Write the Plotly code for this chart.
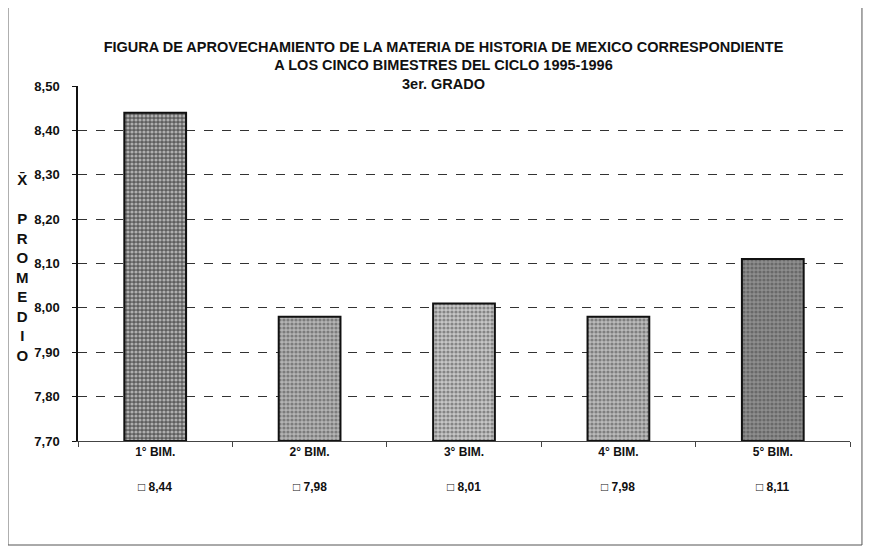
import plotly.graph_objects as go

bimestres = ["1° BIM.", "2° BIM.", "3° BIM.", "4° BIM.", "5° BIM."]
promedios = [8.44, 7.98, 8.01, 7.98, 8.11]
y_ticks = [7.70, 7.80, 7.90, 8.00, 8.10, 8.20, 8.30, 8.40, 8.50]
eje_base = 7.70

# tono del punteado de cada barra (la 1a y la 5a salen mas oscuras en la copia)
fondo = ["#5e5e5e", "#b4b4b4", "#c6c6c6", "#bababa", "#8e8e8e"]

FONT = "Liberation Sans"

fig = go.Figure()

fig.add_trace(
    go.Bar(
        x=bimestres,
        y=[v - eje_base for v in promedios],
        base=eje_base,
        width=0.4,
        marker=dict(
            color=fondo,
            line=dict(color="#111111", width=2),
            pattern=dict(shape=".", fgcolor="#1a1a1a", bgcolor=fondo,
                         size=4, solidity=0.5),
        ),
        showlegend=False,
    )
)

# tabla de valores debajo de las categorias
for cat, val in zip(bimestres, promedios):
    fig.add_annotation(
        x=cat, y=-0.155, xref="x", yref="paper",
        text="□ " + f"{val:.2f}".replace(".", ","),
        showarrow=False, xanchor="center",
        font=dict(family=FONT, size=12, color="#111111", weight="bold"),
    )

# titulo del eje y en vertical
fig.add_annotation(
    x=-0.0725, y=0.49, xref="paper", yref="paper",
    text="X̄<br> <br>P<br>R<br>O<br>M<br>E<br>D<br>I<br>O",
    showarrow=False, xanchor="center", yanchor="middle",
    font=dict(family=FONT, size=15, color="#111111", weight="bold"),
)

# la pagina deja 8 px de margen arriba y a la izquierda
fig.update_layout(
    width=871,
    height=559,
    margin=dict(l=70, r=29, t=78, b=126),
    paper_bgcolor="white",
    plot_bgcolor="white",
    separators=",.",
    title=dict(
        text="FIGURA DE APROVECHAMIENTO DE LA MATERIA DE HISTORIA DE MEXICO CORRESPONDIENTE"
             "<br>A LOS CINCO BIMESTRES DEL CICLO 1995-1996<br>3er. GRADO",
        x=0.5, xanchor="center", y=0.922, yanchor="top",
        font=dict(family=FONT, size=14.5, color="#111111", weight="bold"),
    ),
    shapes=[
        dict(type="rect", xref="paper", yref="paper",
             x0=-0.0907, x1=1.0155, y0=-0.293, y1=1.231,
             line=dict(color="#555555", width=1)),
    ],
)

fig.update_xaxes(
    showline=True, linecolor="#444444", linewidth=1,
    ticks="outside", tickson="boundaries", ticklen=5, tickcolor="#444444",
    showgrid=False,
    tickfont=dict(family=FONT, size=12, color="#111111", weight="bold"),
)

fig.update_yaxes(
    range=[7.70, 8.50],
    tickvals=y_ticks,
    tickformat=".2f",
    showline=True, linecolor="#111111", linewidth=1.5,
    ticks="outside", ticklen=4, tickcolor="#111111",
    ticklabelstandoff=10,
    showgrid=True, gridcolor="#333333", gridwidth=1, griddash="dash",
    zeroline=False,
    tickfont=dict(family=FONT, size=13, color="#111111", weight="bold"),
)

fig.write_html("out.html")
